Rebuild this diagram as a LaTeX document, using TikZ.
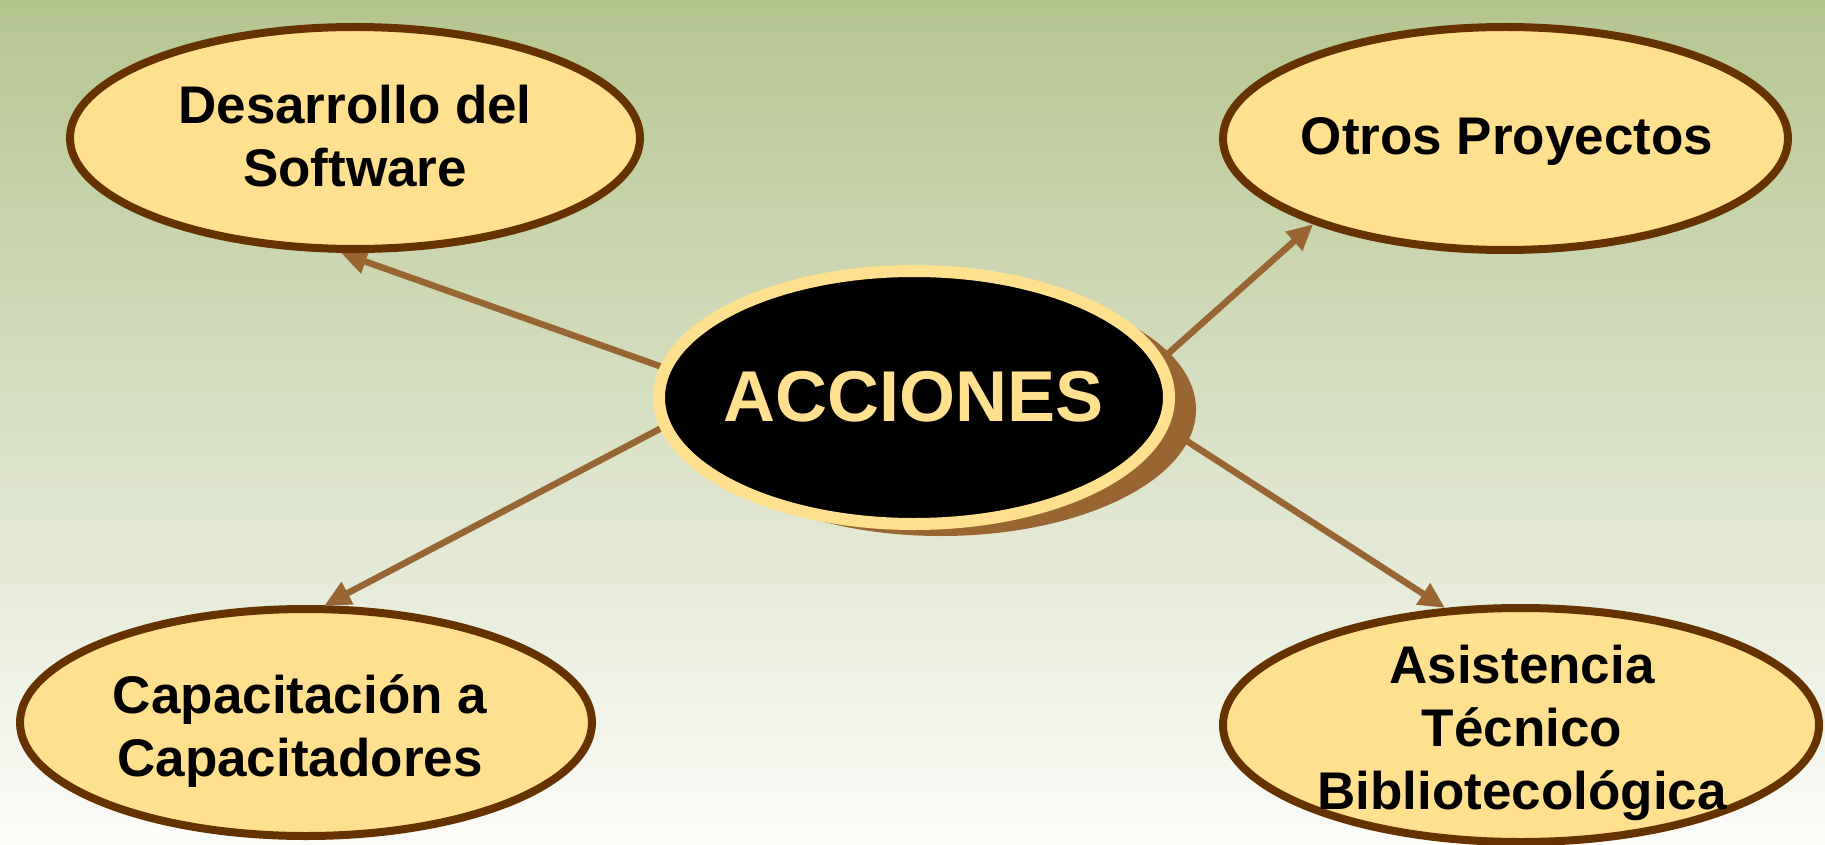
\documentclass[tikz,border=0pt]{standalone}
\usepackage{fontspec}
\setmainfont{Liberation Sans}
\usetikzlibrary{arrows.meta,shapes.geometric,shadows}
\definecolor{bgtop}{RGB}{181,197,143}
\definecolor{bgbot}{RGB}{252,252,249}
\definecolor{pale}{RGB}{255,224,143}
\definecolor{rim}{RGB}{102,51,0}
\definecolor{arrowc}{RGB}{153,102,51}
\pgfdeclarelayer{bg}
\pgfdeclarelayer{edges}
\pgfsetlayers{bg,edges,main}
\begin{document}
\begin{tikzpicture}[x=1pt,y=-1pt,
  topic/.style={ellipse, draw=rim, fill=pale, line width=8pt, inner sep=0pt},
  lbl/.style={align=center, font=\fontsize{53}{63}\selectfont\bfseries, text=black},
  link/.style={draw=arrowc, line width=6.5pt, -{Triangle[length=26pt,width=24pt]}},
  hub/.style={ellipse, fill=black, draw=pale, line width=12pt, inner sep=0pt,
    minimum width=510pt, minimum height=253pt,
    drop shadow={shadow xshift=27pt, shadow yshift=-12pt, fill=arrowc, opacity=1}},
  hubtext/.style={font=\fontsize{72}{72}\selectfont\bfseries, text=pale}
]
\useasboundingbox (0,0) rectangle (1825,845);
\begin{pgfonlayer}{bg}
\shade[top color=bgtop, bottom color=bgbot] (0,0) rectangle (1825,845);
\end{pgfonlayer}

\node[hub] (c) at (914,397.5) {};
\node[hubtext] (ct) at (914,397) {ACCIONES};

\node[topic, minimum width=570pt, minimum height=222pt] (tl) at (355,138) {};
\node[topic, minimum width=565pt, minimum height=223pt] (tr) at (1505.5,138.5) {};
\node[topic, minimum width=572pt, minimum height=227pt] (bl) at (306,722.5) {};
\node[topic, minimum width=596pt, minimum height=234pt] (br) at (1521,725) {};

\node[lbl] (tlt) at (355,136) {Desarrollo del\\Software};
\node[lbl] (trt) at (1507,141) {Otros Proyectos};
\node[lbl] (blt) at (300,731) {Capacitación a\\Capacitadores};
\node[lbl] (brt) at (1522,733) {Asistencia\\Técnico\\Bibliotecológica};

\begin{pgfonlayer}{edges}
\draw[link] (c.173) -- (tl.263);
\draw[link] (c.9) -- (tr.204);
\draw[link] (c.187) -- (bl.81);
\draw[link] (c.-7) -- (br.123);
\end{pgfonlayer}
\end{tikzpicture}
\end{document}
